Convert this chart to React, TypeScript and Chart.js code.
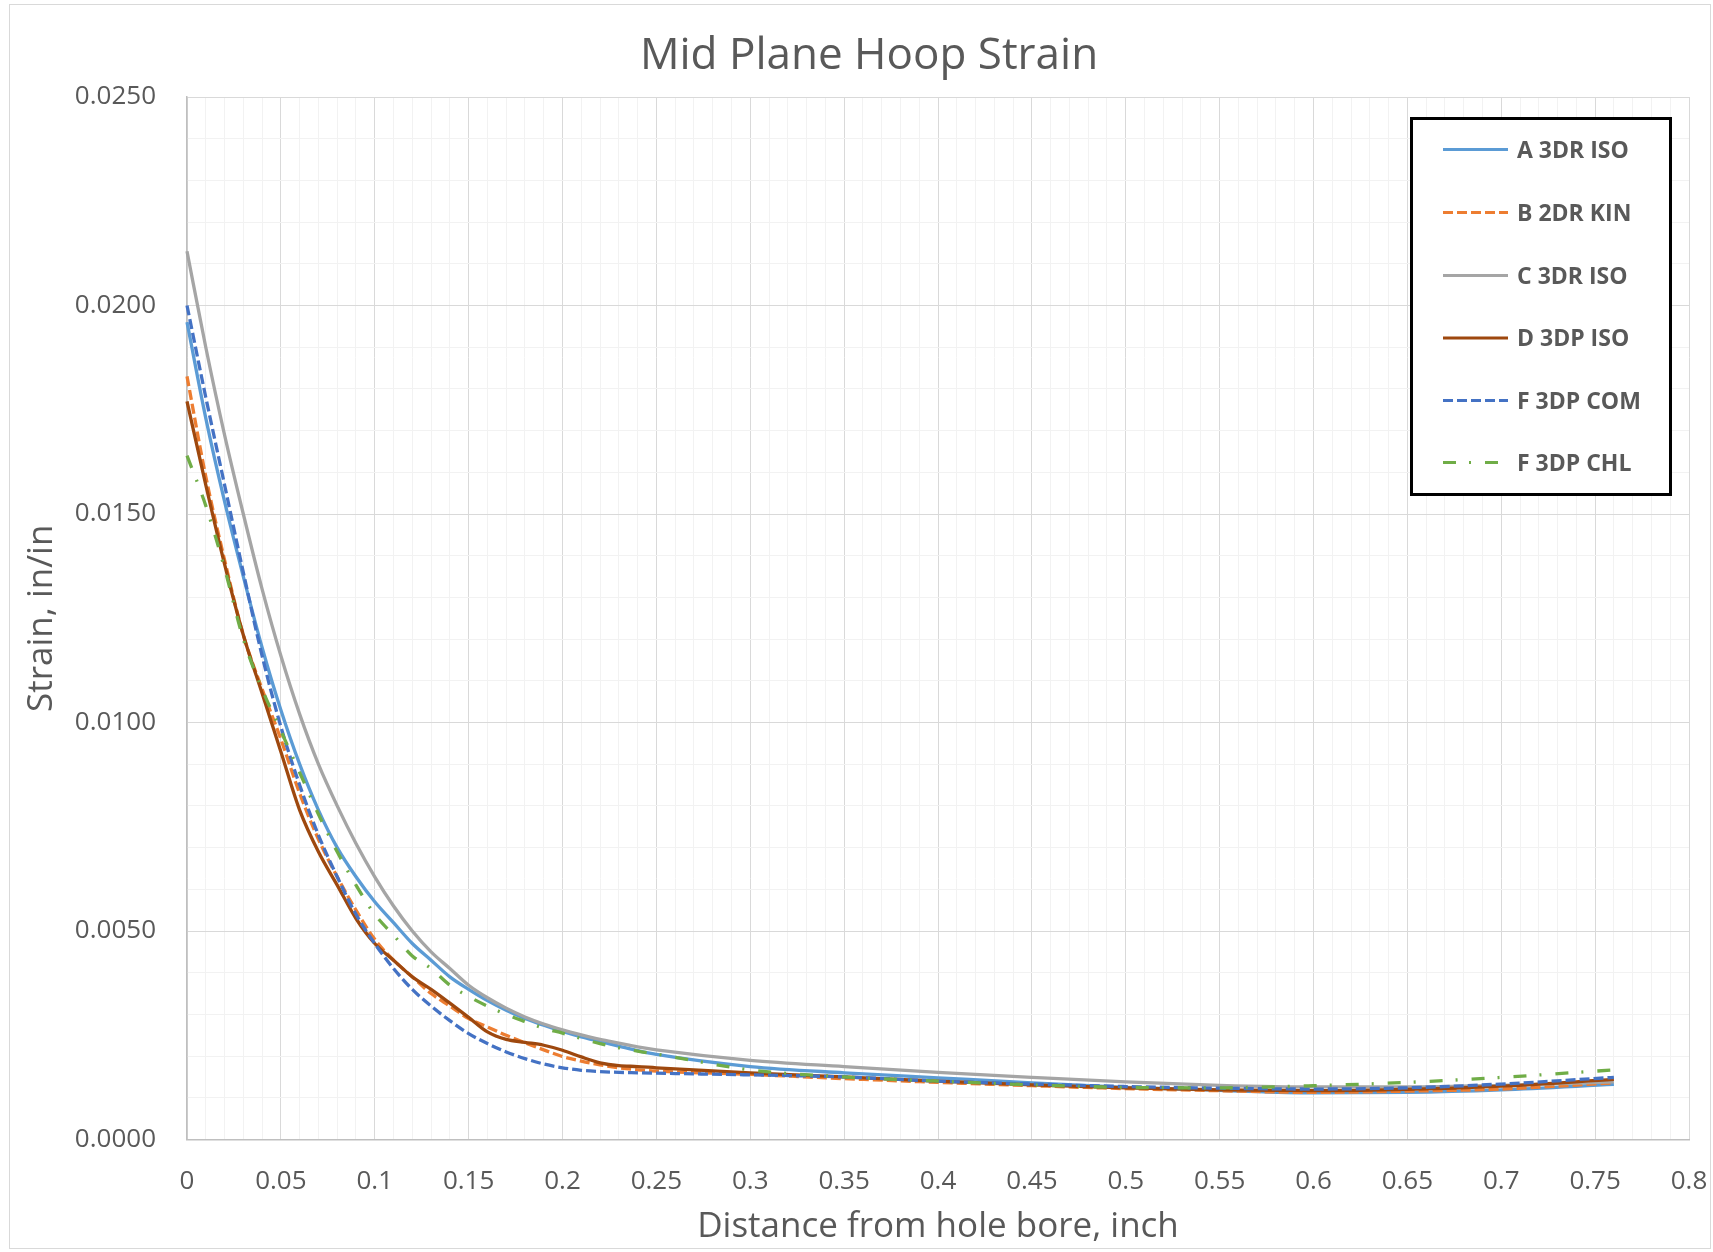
import React, { useEffect, useRef } from "react";
import { Chart, registerables } from "chart.js";

Chart.register(...registerables);

// ---- Data ----
const distance = [
  0, 0.01, 0.02, 0.03, 0.04, 0.05, 0.06, 0.07, 0.08, 0.09, 0.1, 0.11, 0.12, 0.13, 0.14, 0.15, 0.16, 0.17,
  0.18, 0.19, 0.2, 0.21, 0.22, 0.23, 0.24, 0.25, 0.3, 0.35, 0.4, 0.45, 0.5, 0.55, 0.6, 0.65, 0.7, 0.76,
];

const a3drIso = [
  0.0196, 0.0173, 0.0153, 0.0135, 0.0118, 0.0103, 0.009, 0.0079, 0.007, 0.0063, 0.0057, 0.0052, 0.0047,
  0.0043, 0.0039, 0.0036, 0.00333, 0.0031, 0.0029, 0.00274, 0.00259, 0.00246, 0.00235, 0.00224, 0.00213,
  0.00204, 0.00175, 0.0016, 0.00148, 0.00136, 0.00125, 0.00118, 0.00112, 0.00113, 0.00119, 0.00132,
];

const b2drKin = [
  0.0183, 0.0159, 0.0139, 0.0121, 0.0108, 0.0096, 0.0083, 0.0072, 0.0063, 0.0055, 0.0048, 0.0043, 0.0039,
  0.0035, 0.0032, 0.0029, 0.0027, 0.0025, 0.00232, 0.00215, 0.00199, 0.00188, 0.00179, 0.00172, 0.00167,
  0.00164, 0.00156, 0.00146, 0.00137, 0.00129, 0.00122, 0.00117, 0.00113, 0.00116, 0.00121, 0.00136,
];

const c3drIso = [
  0.0213, 0.019, 0.0169, 0.015, 0.0132, 0.0116, 0.0102, 0.009, 0.008, 0.0071, 0.0063, 0.0056, 0.005,
  0.0045, 0.0041, 0.0037, 0.0034, 0.00315, 0.00294, 0.00277, 0.00263, 0.00251, 0.0024, 0.00231, 0.00222,
  0.00215, 0.0019, 0.00175, 0.00161, 0.00149, 0.00138, 0.0013, 0.00126, 0.00126, 0.0013, 0.00138,
];

const d3dpIso = [
  0.0177, 0.0157, 0.0138, 0.0121, 0.0107, 0.0093, 0.0079, 0.0069, 0.0061, 0.0053, 0.0047, 0.0043, 0.0039,
  0.0036, 0.00327, 0.00293, 0.00258, 0.0024, 0.00233, 0.00226, 0.00214, 0.00198, 0.00184, 0.00177, 0.00175,
  0.00172, 0.0016, 0.0015, 0.0014, 0.00131, 0.00124, 0.00119, 0.00117, 0.0012, 0.00128, 0.00144,
];

const f3dpCom = [
  0.02, 0.0178, 0.0157, 0.0136, 0.0116, 0.0099, 0.0085, 0.0073, 0.0063, 0.0054, 0.0047, 0.0041, 0.0036,
  0.0032, 0.00285, 0.00254, 0.0023, 0.0021, 0.00194, 0.00181, 0.00172, 0.00166, 0.00163, 0.00161, 0.0016,
  0.00159, 0.00155, 0.0015, 0.0014, 0.00133, 0.00127, 0.00123, 0.00121, 0.00124, 0.00133, 0.00149,
];

const f3dpChl = [
  0.0164, 0.0152, 0.0137, 0.012, 0.0108, 0.0098, 0.0088, 0.0078, 0.0069, 0.0061, 0.0054, 0.0049, 0.0044,
  0.0041, 0.0037, 0.00343, 0.0032, 0.003, 0.00283, 0.00267, 0.00255, 0.00242, 0.0023, 0.0022, 0.00212,
  0.00205, 0.00167, 0.0015, 0.0014, 0.00131, 0.00125, 0.00124, 0.00129, 0.00137, 0.00149, 0.00167,
];

const seriesNames = ["A 3DR ISO", "B 2DR KIN", "C 3DR ISO", "D 3DP ISO", "F 3DP COM", "F 3DP CHL"];
const seriesValues = [a3drIso, b2drKin, c3drIso, d3dpIso, f3dpCom, f3dpChl];
const seriesColors = ["#5B9BD5", "#ED7D31", "#A5A5A5", "#9E480E", "#4472C4", "#70AD47"];
const seriesDashes: number[][] = [[], [10, 4], [], [], [10, 4], [13, 13, 2, 14]];

const xTickLabels = [
  "0", "0.05", "0.1", "0.15", "0.2", "0.25", "0.3", "0.35", "0.4", "0.45", "0.5", "0.55", "0.6", "0.65",
  "0.7", "0.75", "0.8",
];
const yTickLabels = ["0.0000", "0.0050", "0.0100", "0.0150", "0.0200", "0.0250"];

const chartTitle = "Mid Plane Hoop Strain";
const xAxisTitle = "Distance from hole bore, inch";
const yAxisTitle = "Strain, in/in";

const FONT = "'Open Sans', sans-serif";
const TEXT = "#595959";

const W = 1713;
const H = 1252;

const decorPlugin = {
  id: "decor",
  beforeDraw(chart: any) {
    const ctx = chart.ctx;
    ctx.save();
    ctx.fillStyle = "#FFFFFF";
    ctx.fillRect(0, 0, chart.width, chart.height);
    ctx.restore();
  },
  afterDraw(chart: any) {
    const ctx = chart.ctx;
    ctx.save();
    // outer border
    ctx.strokeStyle = "#D9D9D9";
    ctx.lineWidth = 1;
    ctx.strokeRect(9.5, 4.5, 1701, 1244);
    // title
    ctx.fillStyle = TEXT;
    ctx.font = `44px ${FONT}`;
    ctx.textAlign = "center";
    ctx.textBaseline = "alphabetic";
    ctx.fillText(chartTitle, 869, 69);
    // legend
    const lx = 1411.5, ly = 118.5, lw = 259, lh = 376;
    ctx.fillStyle = "#FFFFFF";
    ctx.fillRect(lx, ly, lw, lh);
    ctx.strokeStyle = "#000000";
    ctx.lineWidth = 3;
    ctx.strokeRect(lx, ly, lw, lh);
    const itemY = [149.5, 212.5, 275.5, 338, 400.5, 462.5];
    chart.data.datasets.forEach((ds: any, i: number) => {
      const y = itemY[i];
      ctx.strokeStyle = ds.borderColor;
      ctx.lineWidth = 3;
      ctx.setLineDash(ds.borderDash || []);
      ctx.beginPath();
      ctx.moveTo(1443, y);
      ctx.lineTo(1508, y);
      ctx.stroke();
      ctx.setLineDash([]);
      ctx.fillStyle = TEXT;
      ctx.font = `bold 23px ${FONT}`;
      ctx.textAlign = "left";
      ctx.textBaseline = "alphabetic";
      ctx.fillText(ds.label, 1517, y + 8.3);
    });
    ctx.restore();
  },
};

export default function App() {
  const canvasRef = useRef<HTMLCanvasElement | null>(null);

  useEffect(() => {
    if (!canvasRef.current) return;
    const datasets = seriesNames.map((name, i) => ({
      label: name,
      data: distance.map((x, j) => ({ x, y: seriesValues[i][j] })),
      borderColor: seriesColors[i],
      backgroundColor: seriesColors[i],
      borderWidth: 3.3,
      borderDash: seriesDashes[i],
      pointRadius: 0,
      pointHoverRadius: 0,
      fill: false,
      cubicInterpolationMode: "monotone" as const,
      order: seriesNames.length - 1 - i,
      clip: false as const,
    }));

    const chart = new Chart(canvasRef.current, {
      type: "line",
      data: { datasets },
      plugins: [decorPlugin],
      options: {
        responsive: false,
        animation: false,
        devicePixelRatio: 1,
        layout: { padding: { top: 97, right: 24, bottom: 0, left: 0 } },
        plugins: {
          legend: { display: false },
          title: { display: false },
          tooltip: { enabled: false },
        },
        scales: {
          x: {
            type: "linear",
            min: 0,
            max: 0.8,
            afterFit: (scale: any) => {
              scale.height = 112.5;
              scale.paddingLeft = 0;
              scale.paddingRight = 0;
            },
            afterBuildTicks: (scale: any) => {
              scale.ticks = Array.from({ length: 81 }, (_, i) => ({ value: i / 100 }));
            },
            ticks: {
              autoSkip: false,
              maxRotation: 0,
              minRotation: 0,
              padding: 26,
              color: TEXT,
              font: { family: FONT, size: 26 },
              callback: (_v: any, index: number) => (index % 5 === 0 ? xTickLabels[index / 5] : ""),
            },
            grid: {
              drawTicks: false,
              lineWidth: 1,
              color: (ctx: any) => (ctx.index % 5 === 0 ? "#D9D9D9" : "#F2F2F2"),
            },
            border: { display: true, color: "#BFBFBF", width: 1.5 },
            title: {
              display: true,
              text: xAxisTitle,
              color: TEXT,
              font: { family: FONT, size: 35 },
              padding: { top: 0, bottom: 4 },
            },
          },
          y: {
            type: "linear",
            min: 0,
            max: 0.025,
            afterFit: (scale: any) => {
              scale.width = 187;
              scale.paddingTop = 0;
              scale.paddingBottom = 0;
            },
            afterBuildTicks: (scale: any) => {
              scale.ticks = Array.from({ length: 26 }, (_, i) => ({ value: i / 1000 }));
            },
            ticks: {
              autoSkip: false,
              padding: 31,
              color: TEXT,
              font: { family: FONT, size: 26 },
              callback: (_v: any, index: number) => (index % 5 === 0 ? yTickLabels[index / 5] : ""),
            },
            grid: {
              drawTicks: false,
              lineWidth: 1,
              color: (ctx: any) => (ctx.index % 5 === 0 ? "#D9D9D9" : "#F2F2F2"),
            },
            border: { display: true, color: "#BFBFBF", width: 1.5 },
            title: {
              display: true,
              text: yAxisTitle,
              color: TEXT,
              font: { family: FONT, size: 35 },
              padding: { top: 21, bottom: 0 },
            },
          },
        },
      },
    });
    return () => chart.destroy();
  }, []);

  return (
    <div style={{ position: "fixed", left: 0, top: 0, width: W, height: H, background: "#fff" }}>
      <canvas ref={canvasRef} width={W} height={H} style={{ display: "block", width: W, height: H }} />
    </div>
  );
}
